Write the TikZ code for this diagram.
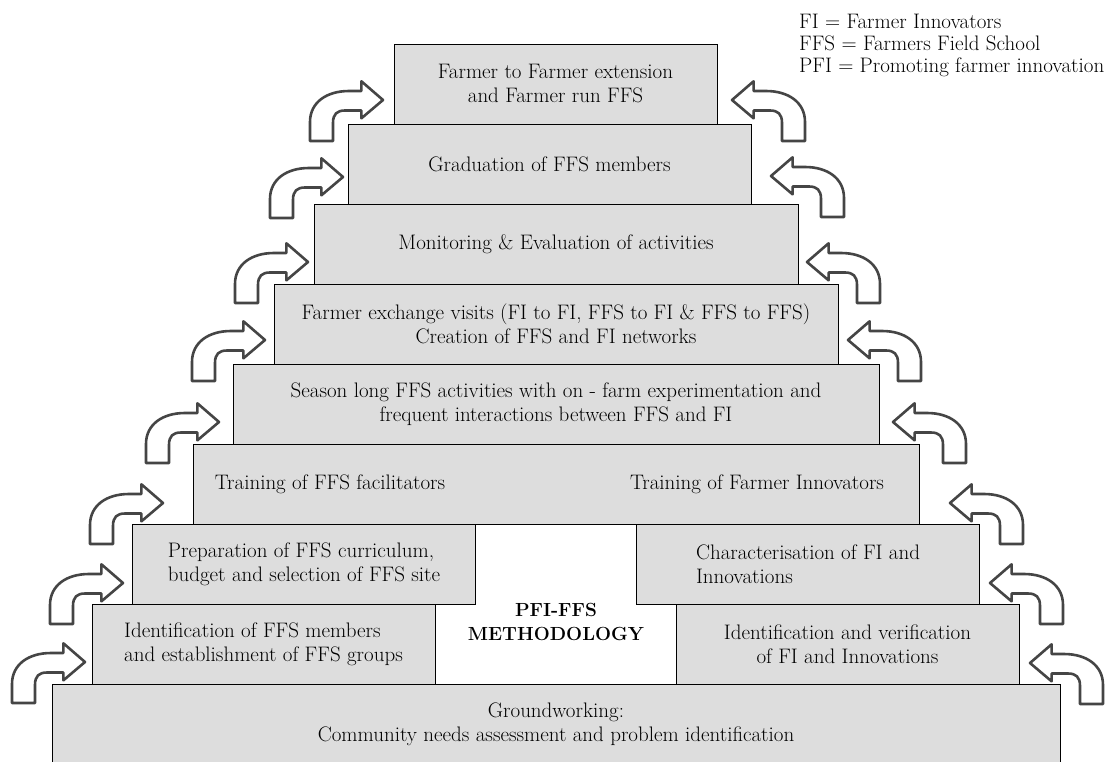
\documentclass[tikz,border=0pt]{standalone}
\usepackage{amsmath}
\definecolor{boxgrey}{HTML}{DDDDDD}
\definecolor{arrowgrey}{HTML}{454545}

\begin{document}
\begin{tikzpicture}[x=1pt,y=-1pt,
        box/.style={
        draw=black, fill=boxgrey,
        line width=0.8pt, inner sep=0pt,
        minimum height=80pt, align=center,
        font=\fontsize{21}{24}\selectfont},
        txt/.style={inner sep=0pt,
        font=\fontsize{21}{24}\selectfont},
        bentarrow/.pic={
        \draw[arrowgrey, line width=2.6pt, fill=white, line join=round]
          (0,0) -- (-21.6,-18.7) -- (-21.6,-9) -- (-34,-9)
          .. controls (-56,-9) and (-73,2) .. (-73,22) -- (-73,41)
          -- (-50,41) -- (-50,23)
          .. controls (-50,14) and (-46,10.5) .. (-38,10.5)
          -- (-21.6,10.5) -- (-21.6,18.3) -- cycle;},
        ]

        \useasboundingbox (0,0) rectangle (1108,761);
        \clip (0,0) rectangle (1108,761);

        % steps of the pyramid
        \node (ground) [box, minimum width=1008pt] at (556,724)
          {Groundworking:\\Community needs assessment and problem identification};
        \node (identL) [box, minimum width=343pt, align=left] at (263.5,644)
          {Identification of FFS members\\and establishment of FFS groups};
        \node (identR) [box, minimum width=343pt] at (847.5,644)
          {Identification and verification\\of FI and Innovations};
        \node (prep) [box, minimum width=343pt, align=left] at (304,564)
          {Preparation of FFS curriculum,\\budget and selection of FFS site};
        \node (charact) [box, minimum width=343pt, align=left] at (808,564)
          {Characterisation of FI and\\Innovations};
        \node (train) [box, minimum width=726pt] at (556,484) {};
        \node (season) [box, minimum width=646pt] at (556,404)
          {Season long FFS activities with on - farm experimentation and\\frequent interactions between FFS and FI};
        \node (exch) [box, minimum width=564pt] at (556,324)
          {Farmer exchange visits (FI to FI, FFS to FI \& FFS to FFS)\\Creation of FFS and FI networks};
        \node (monit) [box, minimum width=484pt] at (556,244)
          {Monitoring \& Evaluation of activities};
        \node (grad) [box, minimum width=403pt] at (549.5,164)
          {Graduation of FFS members};
        \node (top) [box, minimum width=323pt] at (555.5,84)
          {Farmer to Farmer extension\\and Farmer run FFS};

        \node (trainL) [txt] at (330,484) {Training of FFS facilitators};
        \node (trainR) [txt] at (757,484) {Training of Farmer Innovators};

        \node (title) [txt, align=center, font=\fontsize{19}{24}\selectfont\bfseries]
          at (556,622) {PFI-FFS\\METHODOLOGY};

        \node (legend) [txt, anchor=north west, align=left,
          font=\fontsize{21}{22}\selectfont] at (799,14)
          {FI = Farmer Innovators\\FFS = Farmers Field School\\PFI = Promoting farmer innovation};

        % arrows on the left
        \pic at (85,662) {bentarrow};
        \pic at (123,583) {bentarrow};
        \pic at (163,503) {bentarrow};
        \pic at (219,422) {bentarrow};
        \pic at (265,340) {bentarrow};
        \pic at (308,262) {bentarrow};
        \pic at (343,177) {bentarrow};
        \pic at (383,100) {bentarrow};

        % arrows on the right
        \pic[xscale=-1] at (1030,663) {bentarrow};
        \pic[xscale=-1] at (990,583) {bentarrow};
        \pic[xscale=-1] at (950,503) {bentarrow};
        \pic[xscale=-1] at (893,422) {bentarrow};
        \pic[xscale=-1] at (848,340) {bentarrow};
        \pic[xscale=-1] at (807,262) {bentarrow};
        \pic[xscale=-1] at (771,176) {bentarrow};
        \pic[xscale=-1] at (732,100) {bentarrow};
    \end{tikzpicture}
\end{document}
